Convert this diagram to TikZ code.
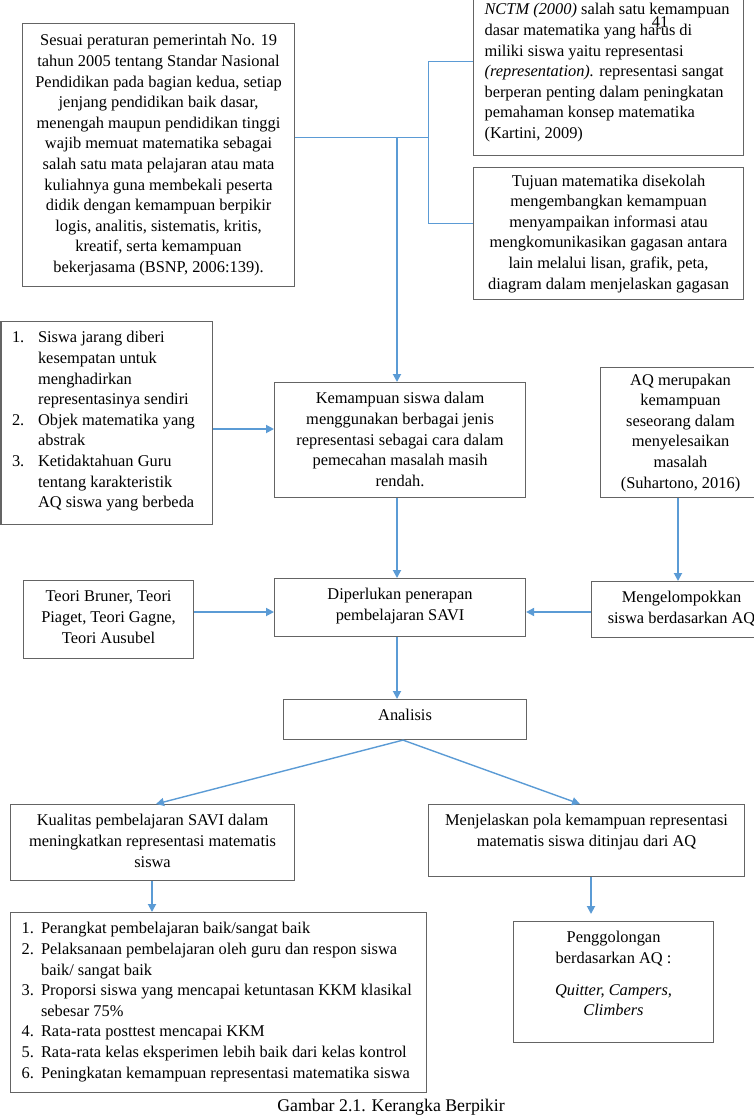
\documentclass[tikz,border=0pt]{standalone}
\usepackage{fontspec}
\setmainfont{Liberation Serif}
\usetikzlibrary{arrows.meta}

\definecolor{biru}{RGB}{91,155,213}
\definecolor{garis}{RGB}{100,100,100}

% isi kotak: tinggi tetap, teks di atas (t) atau di tengah (c)
\newcommand{\isi}[4][t]{\parbox[c][#3][#1]{#2}{\ifx t#1\vspace*{3pt}\fi#4}}
\newcommand{\baris}[2][c]{\begin{tabular}{@{}#1@{}}#2\end{tabular}}

\begin{document}
\begin{tikzpicture}[
	x=1pt, y=-1pt,
	every node/.style={font=\fontsize{16.4}{20.6}\selectfont},
	kotak/.style={draw=garis, line width=1.1pt, anchor=north west, inner xsep=11pt, inner ysep=4pt},
	panah/.style={draw=biru, line width=1.8pt, -{Triangle[length=8pt,width=8pt]}},
	tipis/.style={draw=biru, line width=1pt},
]
\useasboundingbox (0,0) rectangle (754,1120);

\node[kotak] (sesuai) at (22,23) {\isi[c]{250pt}{255pt}{\centering\baris{Sesuai peraturan pemerintah No. 19\\ tahun 2005 tentang Standar Nasional\\ Pendidikan pada bagian kedua, setiap\\ jenjang pendidikan baik dasar,\\ menengah maupun pendidikan tinggi\\ wajib memuat matematika sebagai\\ salah satu mata pelajaran atau mata\\ kuliahnya guna membekali peserta\\ didik dengan kemampuan berpikir\\ logis, analitis, sistematis, kritis,\\ kreatif, serta kemampuan\\ bekerjasama (BSNP, 2006:139).}}};
\node[kotak] (nctm) at (473,-7) {\isi{248pt}{154pt}{\baris[l]{\textit{NCTM (2000)} salah satu kemampuan\\ dasar matematika yang harus di\\ miliki siswa yaitu representasi\\ \textit{(representation).} representasi sangat\\ berperan penting dalam peningkatan\\ pemahaman konsep matematika\\ (Kartini, 2009)}}};
\node (halaman) at (660,22) {41};
\node[kotak] (tujuan) at (473,167) {\isi[c]{248pt}{124pt}{\centering\baris{Tujuan matematika disekolah\\ mengembangkan kemampuan\\ menyampaikan informasi atau\\ mengkomunikasikan gagasan antara\\ lain melalui lisan, grafik, peta,\\ diagram dalam menjelaskan gagasan}}};

\node[kotak] (masalah) at (0.5,321) {\isi{189pt}{195pt}{\baris[p{26pt}@{}l]{1. & Siswa jarang diberi\\ & kesempatan untuk\\ & menghadirkan\\ & representasinya sendiri\\ 2. & Objek matematika yang\\ & abstrak\\ 3. & Ketidaktahuan Guru\\ & tentang karakteristik\\ & AQ siswa yang berbeda}}};
\node[kotak] (kemampuan) at (274,382) {\isi{229pt}{107pt}{\centering\baris{Kemampuan siswa dalam\\ menggunakan berbagai jenis\\ representasi sebagai cara dalam\\ pemecahan masalah masih\\ rendah.}}};
\node[kotak] (aq) at (600,367) {\isi[c]{138pt}{122pt}{\centering\baris{AQ merupakan\\ kemampuan\\ seseorang dalam\\ menyelesaikan\\ masalah\\ (Suhartono, 2016)}}};

\node[kotak] (teori) at (23,580) {\isi{148pt}{70pt}{\centering\baris{Teori Bruner, Teori\\ Piaget, Teori Gagne,\\ Teori Ausubel}}};
\node[kotak] (savi) at (274,578) {\isi{229pt}{50pt}{\centering\baris{Diperlukan penerapan\\ pembelajaran SAVI}}};
\node[kotak] (kelompok) at (591,581) {\isi{158pt}{48pt}{\centering\baris{Mengelompokkan\\ siswa berdasarkan AQ}}};

\node[kotak] (analisis) at (283,699) {\isi{221pt}{32pt}{\centering\baris{Analisis}}};

\node[kotak] (kualitas) at (10,804) {\isi{262pt}{68pt}{\centering\baris{Kualitas pembelajaran SAVI dalam\\ meningkatkan representasi matematis\\ siswa}}};
\node[kotak] (pola) at (428,804) {\isi{294pt}{64pt}{\centering\baris{Menjelaskan pola kemampuan representasi\\ matematis siswa ditinjau dari AQ}}};
\node[kotak] (indikator) at (10,912) {\isi{394pt}{172pt}{\baris[p{19.5pt}@{}l]{1. & Perangkat pembelajaran baik/sangat baik\\ 2. & Pelaksanaan pembelajaran oleh guru dan respon siswa\\ & baik/ sangat baik\\ 3. & Proporsi siswa yang mencapai ketuntasan KKM klasikal\\ & sebesar 75\%\\ 4. & Rata-rata posttest mencapai KKM\\ 5. & Rata-rata kelas eksperimen lebih baik dari kelas kontrol\\ 6. & Peningkatan kemampuan representasi matematika siswa}}};
\node[kotak] (golongan) at (513,921) {\isi{178pt}{113pt}{\centering\baris{Penggolongan\\ berdasarkan AQ :\\[11pt] \textit{Quitter, Campers,}\\ \textit{Climbers}}}};

\node[font=\fontsize{17.8}{21}\selectfont] (judul) at (391,1107) {Gambar 2.1. Kerangka Berpikir};

\coordinate (cabang) at (428,137);
\coordinate (turun) at (397,137);
\draw[tipis] (sesuai.east |- cabang) -- (cabang);
\draw[tipis] (nctm.west |- 0,61) -- (cabang |- 0,61) -- (cabang |- 0,223) -- (tujuan.west |- 0,223);
\draw[panah] (turun) -- (turun |- kemampuan.north);
\draw[panah] (masalah.east |- 0,429) -- (kemampuan.west |- 0,429);
\draw[panah] (kemampuan.south -| turun) -- (savi.north -| turun);
\draw[panah] (aq.south -| 678,0) -- (kelompok.north -| 678,0);
\draw[panah] (kelompok.west |- 0,612) -- (savi.east |- 0,612);
\draw[panah] (teori.east |- 0,612) -- (savi.west |- 0,612);
\draw[panah] (savi.south -| turun) -- (analisis.north -| turun);
\draw[panah, line width=1.4pt] (analisis.south -| 403,0) -- (kualitas.north -| 156,0);
\draw[panah, line width=1.4pt] (analisis.south -| 403,0) -- (pola.north -| 580,0);
\draw[panah] (kualitas.south -| 152,0) -- (indikator.north -| 152,0);
\draw[panah, shorten >=7pt] (pola.south -| 591,0) -- (golongan.north -| 591,0);
\end{tikzpicture}
\end{document}
